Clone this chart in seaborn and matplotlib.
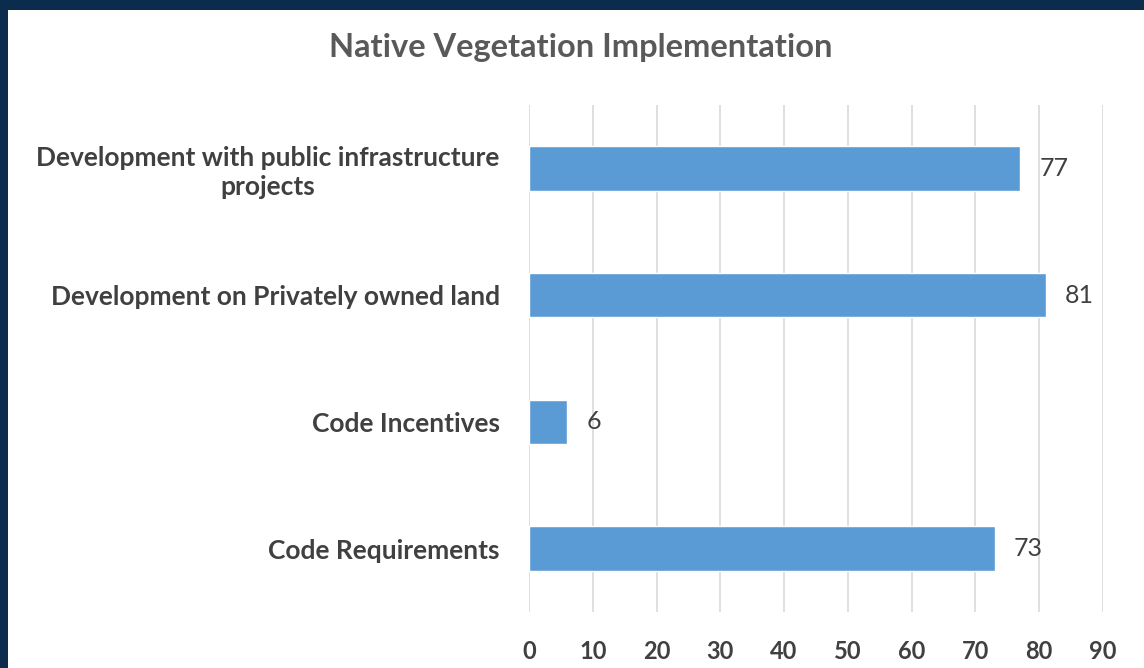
import matplotlib
matplotlib.use("Agg")
import matplotlib.pyplot as plt
import seaborn as sns
import pandas as pd
from matplotlib.patches import Rectangle

categories = [
    "Development with public infrastructure\nprojects",
    "Development on Privately owned land",
    "Code Incentives",
    "Code Requirements",
]
values = [77, 81, 6, 73]
x_ticks = [0, 10, 20, 30, 40, 50, 60, 70, 80, 90]
title = "Native Vegetation Implementation"

df = pd.DataFrame({"category": categories, "value": values})

sns.set_theme(style="white")
plt.rcParams["font.family"] = ["Lato", "DejaVu Sans"]

W, H = 1144, 668
fig = plt.figure(figsize=(W / 100, H / 100), dpi=100)
fig.patch.set_facecolor("#0b2c4c")

# white panel inside the dark frame
fig.patches.append(Rectangle((8 / W, 0), 1 - 8 / W, 1 - 10 / H,
                             transform=fig.transFigure, facecolor="white",
                             edgecolor="none", zorder=-5))

ax = fig.add_axes([529 / W, (H - 612) / H, 574 / W, 507 / H])
ax.set_zorder(2)
ax.set_facecolor("none")

sns.barplot(data=df, x="value", y="category", orient="h", color="#5B9BD5",
            width=0.35, saturation=1, ax=ax, zorder=3)

ax.set_xlim(0, 90)
ax.set_ylim(3.5, -0.5)
ax.set_xticks(x_ticks)
ax.set_xticklabels([str(t) for t in x_ticks], fontsize=17, fontweight="bold",
                   color="#404040")
ax.xaxis.grid(True, color="#d9d9d9", linewidth=1.2, zorder=0)
ax.yaxis.grid(False)
for s in ax.spines.values():
    s.set_visible(False)
ax.tick_params(axis="x", length=0, pad=20)
ax.tick_params(axis="y", length=0, pad=21)
ax.set_xlabel("")
ax.set_ylabel("")
for lbl in ax.get_yticklabels():
    lbl.set_fontsize(19)
    lbl.set_fontweight("bold")
    lbl.set_color("#404040")
    lbl.set_multialignment("center")
    lbl.set_linespacing(1.25)

for i, v in enumerate(values):
    ax.annotate(str(v), xy=(v, i), xytext=(14, 0), textcoords="offset points",
                va="center", ha="left", fontsize=18, color="#404040")

fig.text(581 / W, 1 - 47 / H, title, ha="center", va="center",
         fontsize=23.5, fontweight="bold", color="#595959")

fig.savefig("out.png", dpi=100, facecolor=fig.get_facecolor())
